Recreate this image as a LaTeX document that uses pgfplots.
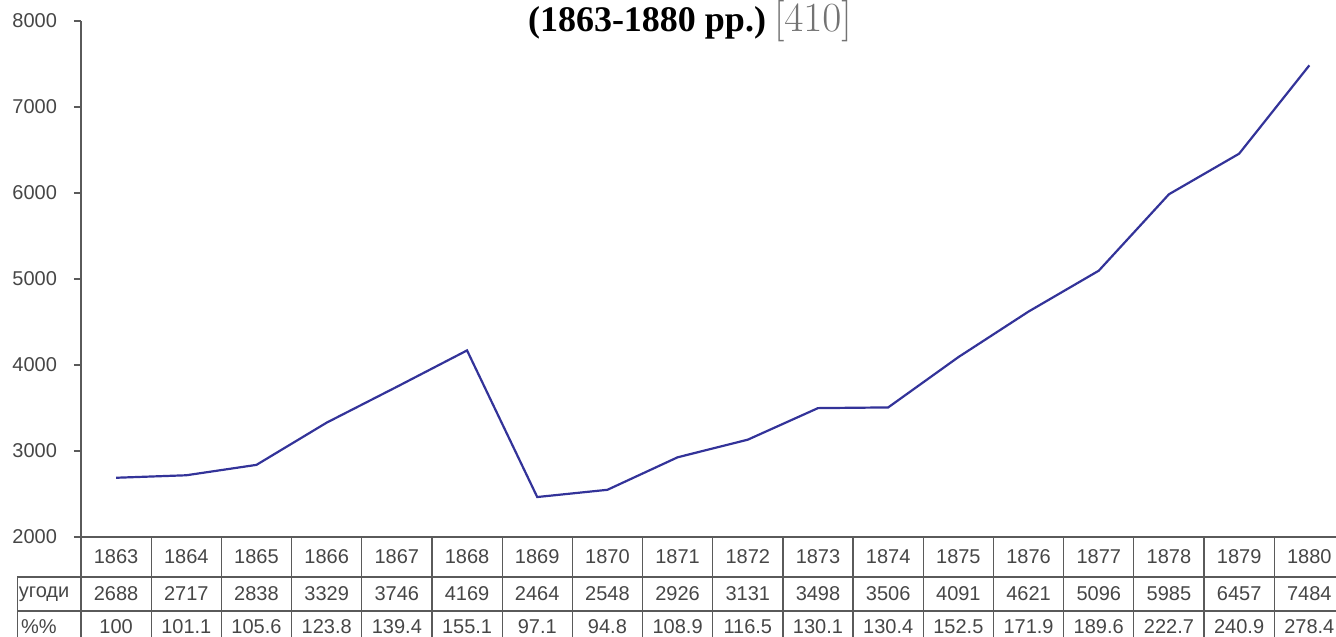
\documentclass[border=0pt]{standalone}
\usepackage{fontspec}
\setmainfont{Liberation Serif}
\setsansfont{Liberation Sans}
\usepackage{pgfplots}
\pgfplotsset{compat=1.18}
\definecolor{lineblue}{RGB}{51,51,153}
\definecolor{txt}{RGB}{70,70,70}
\definecolor{gridc}{RGB}{90,90,90}
\begin{document}
\begin{tikzpicture}
\begin{axis}[
 x=35.1pt, y=0.043pt,
 xmin=-0.5, xmax=17.38, ymin=2000, ymax=8000,
 axis x line=bottom, axis y line=left,
 axis line style={-, draw=gridc, line width=0.6pt},
 xtick=\empty,
 ytick={2000,3000,...,8000},
 tick align=outside, major tick length=3.5pt,
 tick style={draw=gridc, line width=0.6pt},
 /pgf/number format/1000 sep={},
 /pgf/number format/assume math mode=true,
 yticklabel style={font=\sffamily\fontsize{10}{12}\selectfont, text=txt, xshift=-5pt},
 clip=false,
]
\addplot[lineblue, line width=1.1pt] coordinates {
(0,2688) (1,2717) (2,2838) (3,3329) (4,3746) (5,4169) (6,2464) (7,2548) (8,2926)
(9,3131) (10,3498) (11,3506) (12,4091) (13,4621) (14,5096) (15,5985) (16,6457) (17,7484)};
\coordinate (O) at (axis cs:-0.5,2000);
\end{axis}
\begin{scope}[shift={(O)}, x=35.1pt, y=1pt, every node/.style={font=\sffamily\fontsize{10}{12}\selectfont, text=txt, inner sep=0pt}]
\draw[gridc, line width=0.6pt] (-0.91,-20) -- (17.88,-20);
\draw[gridc, line width=0.6pt] (-0.91,-37) -- (17.88,-37);
\draw[gridc, line width=0.6pt] (-0.91,-55) -- (17.88,-55);
\foreach \k in {0,...,17} \draw[gridc, line width=0.6pt] (\k,0) -- (\k,-55);
\draw[gridc, line width=0.6pt] (-0.91,-20) -- (-0.91,-55);
\foreach \v [count=\i from 0] in {1863,1864,1865,1866,1867,1868,1869,1870,1871,1872,1873,1874,1875,1876,1877,1878,1879,1880}
  \node at (\i+0.5,-10) {\v};
\foreach \v [count=\i from 0] in {2688,2717,2838,3329,3746,4169,2464,2548,2926,3131,3498,3506,4091,4621,5096,5985,6457,7484}
  \node at (\i+0.5,-28.5) {\v};
\foreach \v [count=\i from 0] in {100,101.1,105.6,123.8,139.4,155.1,97.1,94.8,108.9,116.5,130.1,130.4,152.5,171.9,189.6,222.7,240.9,278.4}
  \node at (\i+0.5,-45) {\v};
\node[anchor=west] at (-0.89,-28.5) {угоди};
\node[anchor=west] at (-0.86,-45) {\%\%};
\node[anchor=base, font=\fontsize{18}{20}\selectfont, text=black] at (8.675,252.5) {\textbf{(1863-1880 рр.)}\hspace{4pt}{\fontsize{22}{24}\selectfont\color{black!55}$[410]$}};
\pgfresetboundingbox
\path[use as bounding box] (-1.154,-50) rectangle (17.88,268.5);
\end{scope}
\end{tikzpicture}
\end{document}
